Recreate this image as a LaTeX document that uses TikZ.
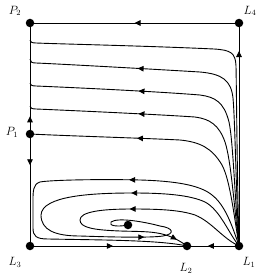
\documentclass[tikz,border=0pt]{standalone}
\usetikzlibrary{arrows.meta,decorations.markings}
\begin{document}
\begin{tikzpicture}[x=1pt,y=-1pt,
  line/.style={line width=0.9pt},
  dot/.style={circle,fill,inner sep=0pt,minimum size=8.5pt},
  lbl/.style={font=\large},
  tip/.tip={Triangle[length=6pt,width=5.5pt]},
  arrowat/.style={postaction={decorate},decoration={markings,mark=at position #1 with {\arrow{tip}}}},
  arrowsat/.style 2 args={postaction={decorate},decoration={markings,
     mark=at position #1 with {\arrow{tip}},mark=at position #2 with {\arrow{tip}}}},
]
\useasboundingbox (0,0) rectangle (261,278);
% fixed points
\node[dot] (P2) at (30,23) {};
\node[dot] (L4) at (239,23) {};
\node[dot] (P1) at (30,134) {};
\node[dot] (L3) at (30,246) {};
\node[dot] (L2) at (187,246) {};
\node[dot] (L1) at (239,246) {};
\node[dot] (C) at (128,225) {};
% labels
\node[lbl] (lP2) at (15,11) {$P_2$};
\node[lbl] (lL4) at (250,11) {$L_4$};
\node[lbl] (lP1) at (12,132) {$P_1$};
\node[lbl] (lL3) at (15,262) {$L_3$};
\node[lbl] (lL2) at (186,268) {$L_2$};
\node[lbl] (lL1) at (249,262) {$L_1$};
% boundary
\draw[line,arrowat=0.5] (L4) -- (P2);
\draw[line,arrowat=0.89] (L1) -- (L4);
\draw[line,arrowat=0.13] (P1) -- (P2);
\draw[line,arrowat=0.26] (P1) -- (L3);
\draw[line,arrowat=0.53] (L3) -- (L2);
\draw[line,arrowat=0.62] (L1) -- (L2);
% upper family
\draw[line] (L1.center) .. controls (237,170) and (236.5,90) .. (236,66)
  .. controls (235.5,53) and (231,50) .. (214,49)
  .. controls (150,46) and (60,44) .. (36,43)
  .. controls (32,43) and (30,42) .. (30,40);
\draw[line,arrowat=-110pt] (L1.center) .. controls (236,190) and (235,120) .. (233,98)
  .. controls (231,80) and (222,74) .. (200,72)
  .. controls (150,69) and (60,64) .. (36,63)
  .. controls (32,63) and (30,62) .. (30,59);
\draw[line,arrowat=-110pt] (L1.center) .. controls (235,200) and (233,140) .. (229,122)
  .. controls (224,102) and (215,97) .. (200,95)
  .. controls (150,91) and (60,87) .. (36,86)
  .. controls (32,86) and (30,85) .. (30,83);
\draw[line,arrowat=-110pt] (L1.center) .. controls (234,205) and (231,160) .. (225,142)
  .. controls (219,125) and (210,119) .. (195,117)
  .. controls (150,114) and (60,110) .. (36,109)
  .. controls (32,109) and (30,108) .. (30,106);
\draw[line,arrowat=-107pt] (L1.center) .. controls (234,215) and (230,180) .. (222,165)
  .. controls (212,148) and (200,142) .. (180,140)
  .. controls (140,138) and (70,136) .. (P1.center);
% lower family
\draw[line,arrowat=144pt] (L1.center) .. controls (232,225) and (225,205) .. (212,195)
  .. controls (200,185) and (175,181) .. (140,180)
  .. controls (100,179) and (50,180) .. (40,182)
  .. controls (33,184) and (33,192) .. (33,200) -- (33,228)
  .. controls (33,236) and (36,239) .. (48,239)
  .. controls (100,240) and (160,240) .. (L2.center);
\draw[line,arrowsat={131pt}{-112pt}] (L1.center) .. controls (228,232) and (220,210) .. (205,202)
  .. controls (190,195) and (165,193) .. (133,193)
  .. controls (90,193) and (42,196) .. (41,215)
  .. controls (41,230) and (55,236) .. (80,236)
  .. controls (110,237) and (150,238) .. (163,236)
  .. controls (175,234) and (174,228) .. (160,226)
  .. controls (145,222) and (118,217) .. (111,222)
  .. controls (108,226) and (118,227) .. (C.center);
\draw[line,arrowsat={120pt}{-12pt}] (L1.center) .. controls (222,238) and (212,222) .. (195,215)
  .. controls (180,210) and (160,209) .. (132,209)
  .. controls (100,209) and (80,212) .. (80,220)
  .. controls (80,228) and (95,230) .. (120,231)
  .. controls (150,232) and (165,230) .. (L2.center);
\end{tikzpicture}
\end{document}
